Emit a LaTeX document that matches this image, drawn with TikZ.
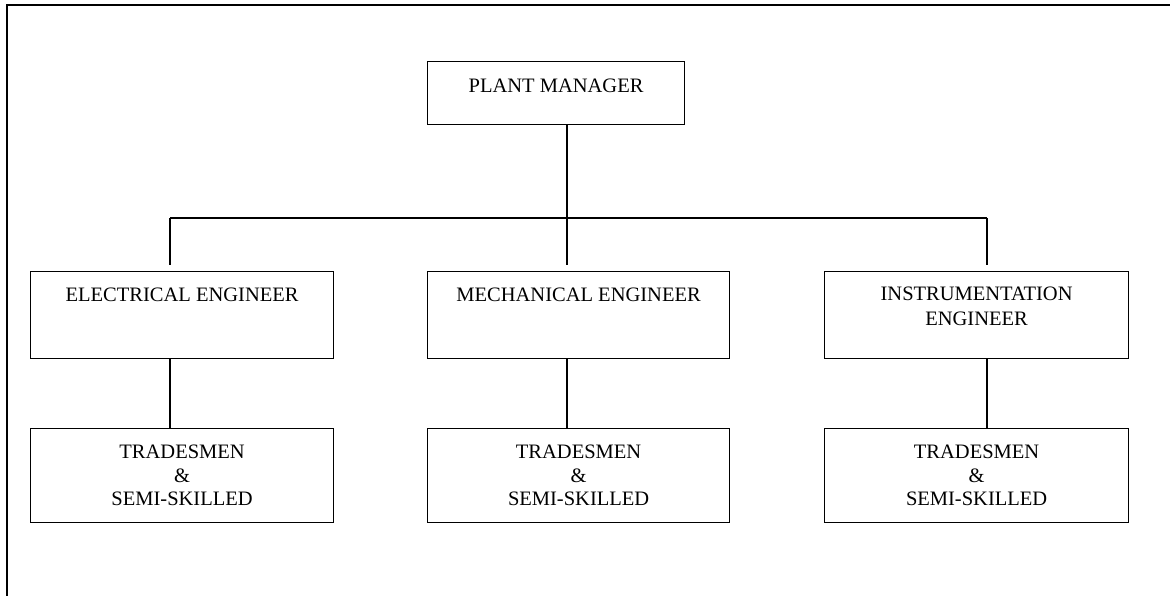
\documentclass[tikz,border=0pt]{standalone}
\usepackage{fontspec}
\setmainfont{Liberation Serif}
\newcommand{\boxtxt}[4]{\parbox[t][#2][t]{#1}{\centering\vspace*{#3}#4\par}}
\tikzset{
  orgbox/.style={draw, line width=1.2pt, inner sep=0pt, anchor=north west,
    font=\fontsize{20.5}{23.5}\selectfont},
  link/.style={line width=1.2pt},
  frameline/.style={line width=2pt}
}
\begin{document}
\begin{tikzpicture}[x=1pt,y=-1pt]
\useasboundingbox (0,0) rectangle (1170,596);
\draw[frameline] (6.5,596) -- (6.5,5) -- (1170,5);

\node[orgbox] (pm) at (427,61) {\boxtxt{257pt}{63pt}{17.3pt}{PLANT MANAGER}};

\node[orgbox] (ee) at (30,271) {\boxtxt{303pt}{87pt}{16.4pt}{ELECTRICAL ENGINEER}};
\node[orgbox] (me) at (427,271) {\boxtxt{302pt}{87pt}{16.8pt}{MECHANICAL ENGINEER}};
\node[orgbox] (ie) at (824,271) {\boxtxt{304pt}{87pt}{15.6pt}{INSTRUMENTATION\\[1.5pt]ENGINEER}};

\node[orgbox] (t1) at (30,428) {\boxtxt{303pt}{94pt}{16.6pt}{TRADESMEN\\\&\\SEMI-SKILLED}};
\node[orgbox] (t2) at (427,428) {\boxtxt{302pt}{94pt}{16.6pt}{TRADESMEN\\\&\\SEMI-SKILLED}};
\node[orgbox] (t3) at (824,428) {\boxtxt{304pt}{94pt}{16.6pt}{TRADESMEN\\\&\\SEMI-SKILLED}};

\coordinate (jm) at (567,218);
\coordinate (jl) at (170,218);
\coordinate (jr) at (987,218);

\draw[link] (pm.south -| jm) -- (jm);
\draw[link] (jl) -- (jr);
\draw[link] (jl) -- ([yshift=6pt]ee.north -| jl);
\draw[link] (jm) -- ([yshift=6pt]me.north -| jm);
\draw[link] (jr) -- ([yshift=6pt]ie.north -| jr);

\draw[link] (ee.south -| jl) -- (t1.north -| jl);
\draw[link] (me.south -| jm) -- (t2.north -| jm);
\draw[link] (ie.south -| jr) -- (t3.north -| jr);
\end{tikzpicture}
\end{document}
